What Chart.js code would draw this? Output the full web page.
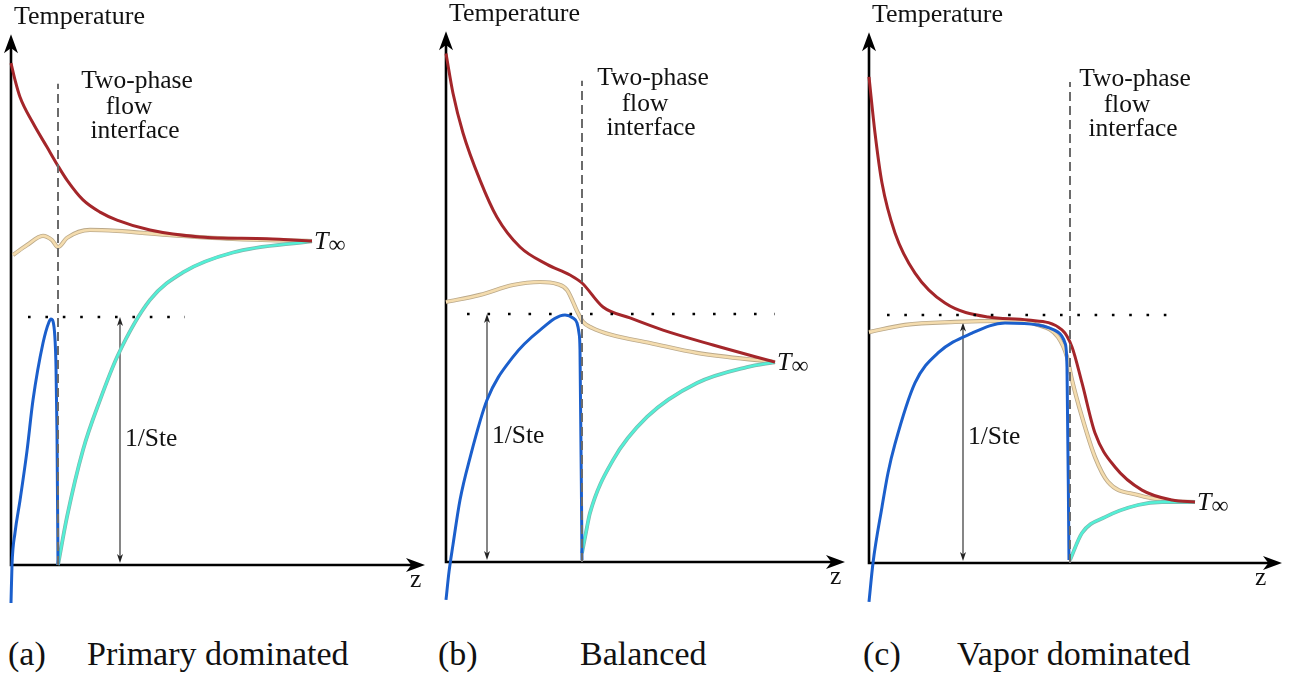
<!DOCTYPE html>
<html>
<head>
<meta charset="utf-8">
<script src="https://cdn.jsdelivr.net/npm/chart.js@4/dist/chart.umd.min.js"></script>
<style>
  body { margin: 0; background: #fff; width: 1293px; height: 684px; position: relative; overflow: hidden; font-family: 'Liberation Serif', 'DejaVu Serif', serif; }
  canvas { position: absolute; top: 0; }
  .cap { position: absolute; top: 637px; font-size: 34px; line-height: 34px; color: #111; white-space: nowrap; }
</style>
</head>
<body>
<canvas id="chartA" width="431" height="620" style="left:0px"></canvas>
<canvas id="chartB" width="424" height="620" style="left:431px"></canvas>
<canvas id="chartC" width="438" height="620" style="left:855px"></canvas>

<div class="cap" style="left:8px">(a)</div>
<div class="cap" style="left:87px" id="capA"></div>
<div class="cap" style="left:438px">(b)</div>
<div class="cap" style="left:580px" id="capB"></div>
<div class="cap" style="left:863px">(c)</div>
<div class="cap" style="left:957px" id="capC"></div>

<script>
// z in arbitrary units, temperature in units of 1/Ste (dotted line = 1)

// (a) primary dominated
const redA = [[0, 2.024], [0.04, 1.956], [0.09, 1.887], [0.22, 1.782], [0.36, 1.685], [0.47, 1.609], [0.56, 1.552], [0.72, 1.472], [0.89, 1.423], [1.06, 1.391], [1.39, 1.351], [1.89, 1.323], [2.56, 1.315], [3.01, 1.306]];
const tanA = [[0.02, 1.25], [0.16, 1.29], [0.32, 1.327], [0.41, 1.31], [0.47, 1.282], [0.56, 1.319], [0.79, 1.351], [1.06, 1.347], [1.56, 1.331], [2.22, 1.315], [3.01, 1.306]];
const cyanA = [[0.47, 0], [0.56, 0.194], [0.72, 0.464], [0.89, 0.665], [1.07, 0.847], [1.39, 1.069], [1.72, 1.18], [2.22, 1.26], [3.01, 1.306]];
const blueA = [[0, -0.153], [0.01, 0], [0.04, 0.13], [0.09, 0.26], [0.16, 0.46], [0.22, 0.665], [0.32, 0.895], [0.38, 0.98], [0.40, 0.992], [0.43, 0.96], [0.45, 0.80], [0.46, 0.53], [0.47, 0]];

// (b) balanced
const redB = [[0, 2.05], [0.07, 1.89], [0.17, 1.73], [0.34, 1.54], [0.51, 1.39], [0.74, 1.27], [1.01, 1.2], [1.24, 1.157], [1.36, 1.125], [1.57, 1.028], [1.84, 0.984], [2.17, 0.935], [2.67, 0.875], [3.29, 0.806]];
const tanB = [[0, 1.048], [0.34, 1.077], [0.67, 1.117], [0.94, 1.129], [1.11, 1.121], [1.21, 1.097], [1.32, 1.004], [1.37, 0.968], [1.46, 0.944], [1.66, 0.915], [2.04, 0.883], [2.51, 0.843], [3.29, 0.806]];
const cyanB = [[1.36, 0.036], [1.41, 0.141], [1.44, 0.198], [1.67, 0.411], [2.01, 0.585], [2.51, 0.722], [3.01, 0.786], [3.29, 0.806]];
const blueB = [[0, -0.153], [0.03, -0.04], [0.07, 0.07], [0.14, 0.25], [0.24, 0.42], [0.41, 0.653], [0.67, 0.827], [0.94, 0.935], [1.19, 0.996], [1.27, 0.984], [1.31, 0.964], [1.33, 0.923], [1.34, 0.855], [1.36, 0.008]];

// (c) vapor dominated
const redC = [[0, 1.96], [0.06, 1.734], [0.13, 1.532], [0.26, 1.331], [0.46, 1.169], [0.76, 1.048], [1.19, 0.992], [1.59, 0.98], [1.93, 0.94], [2.03, 0.871], [2.13, 0.726], [2.26, 0.524], [2.46, 0.387], [2.73, 0.294], [3.03, 0.254], [3.26, 0.246]];
const tanC = [[0, 0.931], [0.36, 0.96], [0.86, 0.972], [1.36, 0.976], [1.69, 0.96], [1.89, 0.911], [1.98, 0.831], [2.03, 0.738], [2.13, 0.589], [2.26, 0.427], [2.39, 0.327], [2.69, 0.274], [3.03, 0.25], [3.26, 0.246]];
const cyanC = [[2.01, 0.012], [2.13, 0.121], [2.36, 0.185], [2.69, 0.234], [2.93, 0.246], [3.26, 0.246]];
const blueC = [[0, -0.157], [0.04, 0], [0.13, 0.226], [0.19, 0.363], [0.26, 0.48], [0.46, 0.726], [0.69, 0.847], [1.03, 0.927], [1.36, 0.968], [1.69, 0.96], [1.89, 0.931], [1.96, 0.887], [1.98, 0.79], [2.0, 0.012]];

// markers
const interfaceZ = [0.47, 1.36, 2.01];
const interfaceTop = 1.94;
const steZ = [1.09, 0.41, 0.94];
const steTop = [1, 1, 0.97];
const dottedSpan = [[0.17, 1.74], [0.21, 3.29], [0.18, 3.12]];
const captions = ['Primary dominated', 'Balanced', 'Vapor dominated'];

const pts = arr => arr.map(([x, y]) => ({ x, y }));
const serif = '"Liberation Serif", "DejaVu Serif", serif';

function stealth(ctx, tx, ty, dx, dy, len, half, color) {
  const px = -dy, py = dx;
  ctx.beginPath();
  ctx.moveTo(tx, ty);
  ctx.lineTo(tx - dx * len + px * half, ty - dy * len + py * half);
  ctx.lineTo(tx - dx * len * 0.72, ty - dy * len * 0.72);
  ctx.lineTo(tx - dx * len - px * half, ty - dy * len - py * half);
  ctx.closePath();
  ctx.fillStyle = color;
  ctx.fill();
}

// axes, arrows and labels
const sketch = {
  id: 'sketch',
  beforeDatasetsDraw(chart, args, o) {
    const { ctx } = chart;
    const { x, y } = chart.scales;
    const x0 = x.getPixelForValue(0), y0 = y.getPixelForValue(0);
    const xt = x.getPixelForValue(o.xTip), yt = y.getPixelForValue(o.yTip);
    ctx.save();
    ctx.strokeStyle = '#000';
    ctx.lineWidth = 2.6;
    ctx.beginPath();
    ctx.moveTo(x0, y0 + 1.3); ctx.lineTo(x0, yt + 12);
    ctx.moveTo(x0 - 1.3, y0); ctx.lineTo(xt - 12, y0);
    ctx.stroke();
    stealth(ctx, x0, yt, 0, -1, 19, 7, '#000');
    stealth(ctx, xt, y0, 1, 0, 19, 7, '#000');

    // 1/Ste double arrow
    const sx = x.getPixelForValue(o.steZ);
    const s1 = y.getPixelForValue(o.steTop), s0 = y.getPixelForValue(0) - 2;
    ctx.strokeStyle = '#444';
    ctx.lineWidth = 1.3;
    ctx.beginPath(); ctx.moveTo(sx, s1 + 5); ctx.lineTo(sx, s0 - 5); ctx.stroke();
    stealth(ctx, sx, s1, 0, -1, 9, 3, '#222');
    stealth(ctx, sx, s0, 0, 1, 9, 3, '#222');
    ctx.restore();
  },
  afterDatasetsDraw(chart, args, o) {
    const { ctx } = chart;
    const { x, y } = chart.scales;
    const x0 = x.getPixelForValue(0), y0 = y.getPixelForValue(0);
    const yt = y.getPixelForValue(o.yTip);
    ctx.save();
    ctx.fillStyle = '#111';
    ctx.textBaseline = 'alphabetic';
    ctx.textAlign = 'left';
    ctx.font = '26px ' + serif;
    ctx.fillText('Temperature', x0 + 3, yt - 10);

    const ix = x.getPixelForValue(o.interfaceZ) + o.labelDx;
    const iy = y.getPixelForValue(interfaceTop);
    ctx.font = '25.5px ' + serif;
    ctx.textAlign = 'center';
    ctx.fillText('Two-phase', ix, iy + 4);
    ctx.fillText('flow', ix - 8, iy + 30);
    ctx.fillText('interface', ix - 2, iy + 54);

    ctx.textAlign = 'left';
    ctx.fillText('1/Ste', x.getPixelForValue(o.steZ) + 5, y.getPixelForValue(0.48));
    ctx.fillText('z', x.getPixelForValue(o.zLabel), y0 + 22);

    const ex = x.getPixelForValue(o.tInf[0]) + 2, ey = y.getPixelForValue(o.tInf[1]);
    ctx.font = 'italic 26px ' + serif;
    ctx.fillText('T', ex, ey + 8);
    const w = ctx.measureText('T').width;
    ctx.font = '24px ' + serif;
    ctx.fillText('\u221E', ex + w, ey + 11);
    ctx.restore();
  }
};

function buildChart(id, red, tan, cyan, blue, i, view) {
  const iz = interfaceZ[i];
  const datasets = [
    { data: pts([[iz, 0], [iz, interfaceTop]]), borderColor: '#6b6b6b', borderWidth: 2, borderDash: [9, 5], order: 0 },
    { data: pts([[dottedSpan[i][0], 1], [dottedSpan[i][1], 1]]), borderColor: '#000', borderWidth: 2.6, borderDash: [2.6, view.dotGap - 2.6], order: 0 },
    { data: pts(blue), borderColor: '#1b5fcc', borderWidth: 3, cubicInterpolationMode: 'monotone', order: 1 },
    { data: pts(red), borderColor: '#a4262a', borderWidth: 3, cubicInterpolationMode: 'monotone', order: 2 },
    { data: pts(cyan), borderColor: '#52f0d6', borderWidth: 2.4, cubicInterpolationMode: 'monotone', order: 3 },
    { data: pts(cyan), borderColor: '#7fb5ad', borderWidth: 3.8, cubicInterpolationMode: 'monotone', order: 4 },
    { data: pts(tan), borderColor: '#f4dcae', borderWidth: 2.6, cubicInterpolationMode: 'monotone', order: 5 },
    { data: pts(tan), borderColor: '#bba98a', borderWidth: 4.2, cubicInterpolationMode: 'monotone', order: 6 }
  ];
  return new Chart(document.getElementById(id), {
    type: 'scatter',
    data: { datasets: datasets.map(d => ({ ...d, showLine: true, pointRadius: 0 })) },
    options: {
      responsive: false,
      animation: false,
      events: [],
      layout: { padding: 0 },
      scales: {
        x: { type: 'linear', display: false, min: view.xMin, max: view.xMax },
        y: { type: 'linear', display: false, min: view.yMin, max: view.yMax }
      },
      plugins: {
        legend: { display: false },
        tooltip: { enabled: false },
        sketch: {
          xTip: view.xTip, yTip: 2.14, zLabel: view.zLabel, labelDx: view.labelDx,
          interfaceZ: iz, steZ: steZ[i], steTop: steTop[i], tInf: red[red.length - 1]
        }
      }
    },
    plugins: [sketch]
  });
}

buildChart('chartA', redA, tanA, cyanA, blueA, 0,
  { xMin: -0.11, xMax: 4.20, yMin: -0.2218, yMax: 2.2782, xTip: 4.14, zLabel: 3.99, labelDx: 79, dotGap: 17.4 });
buildChart('chartB', redB, tanB, cyanB, blueB, 1,
  { xMin: -0.15, xMax: 4.09, yMin: -0.2339, yMax: 2.2661, xTip: 3.99, zLabel: 3.84, labelDx: 71, dotGap: 20.5 });
buildChart('chartC', redC, tanC, cyanC, blueC, 2,
  { xMin: -0.14, xMax: 4.24, yMin: -0.2298, yMax: 2.2702, xTip: 4.13, zLabel: 3.86, labelDx: 65, dotGap: 17.3 });

document.getElementById('capA').textContent = captions[0];
document.getElementById('capB').textContent = captions[1];
document.getElementById('capC').textContent = captions[2];
</script>
</body>
</html>
